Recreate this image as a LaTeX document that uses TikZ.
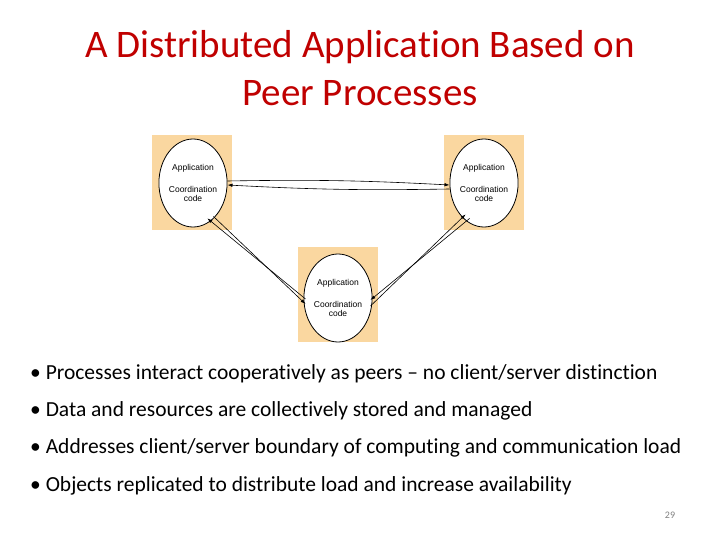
\documentclass[tikz,border=0pt]{standalone}
\usepackage{fontspec}
\setmainfont{Carlito}[Ligatures={NoCommon}]
\newfontfamily\diagfont{Liberation Sans}
\usetikzlibrary{shapes.geometric,arrows.meta,calc}
\definecolor{titlered}{RGB}{192,0,0}
\definecolor{boxfill}{RGB}{250,215,160}
\begin{document}
\begin{tikzpicture}[x=1pt,y=-1pt,
  box/.style={fill=boxfill,draw=none,minimum width=80pt,minimum height=95pt,inner sep=0},
  proc/.style={ellipse,draw,thick,fill=white,minimum width=56pt,minimum height=88pt,inner sep=0,font=\diagfont\fontsize{8.5}{9.5}\selectfont,align=center},
  link/.style={-{Latex[length=5pt,width=3.5pt]},line width=0.6pt},
  bullet/.style={anchor=west,font=\fontsize{21.5}{24}\selectfont,inner sep=0}]
\useasboundingbox (0,0) rectangle (720,540);
\node[font=\fontsize{39}{48}\selectfont,text=titlered,align=center] (title) at (360,68) {A Distributed Application Based on\\Peer Processes};
\node[box] (bl) at (192,183) {};
\node[box] (br) at (484,183) {};
\node[box] (bb) at (338,294) {};
\node[proc] (pl) at (193,183) {Application\\[12pt]Coordination\\code};
\node[proc] (pr) at (484,183) {Application\\[12pt]Coordination\\code};
\node[proc] (pb) at (338,298) {Application\\[12pt]Coordination\\code};
\draw[link] ([yshift=2pt]pl.east) to[bend left=2] ([yshift=-2pt]pr.west);
\draw[link] ([yshift=-2pt]pr.west) ++(0,4) to[bend left=2] ([yshift=-2pt]pl.east);
\draw[link] ($(pl.south east)+(-4,2)$) -- ($(pb.west)+(2,6)$);
\draw[link] ($(pb.west)+(2,1)$) -- ($(pl.south east)+(-10,4)$);
\draw[link] ($(pb.east)+(-2,8)$) -- ($(pr.south west)+(6,0)$);
\draw[link] ($(pr.south west)+(10,4)$) -- ($(pb.east)+(-2,2)$);
\node[bullet] (b1) at (30,374) {\textbullet\ Processes interact cooperatively as peers -- no client/server distinction};
\node[bullet] (b2) at (30,411) {\textbullet\ Data and resources are collectively stored and managed};
\node[bullet] (b3) at (30,448) {\textbullet\ Addresses client/server boundary of computing and communication load};
\node[bullet] (b4) at (30,486) {\textbullet\ Objects replicated to distribute load and increase availability};
\node[font=\fontsize{10}{11}\selectfont,text=gray] (pg) at (670,515) {29};
\end{tikzpicture}
\end{document}
